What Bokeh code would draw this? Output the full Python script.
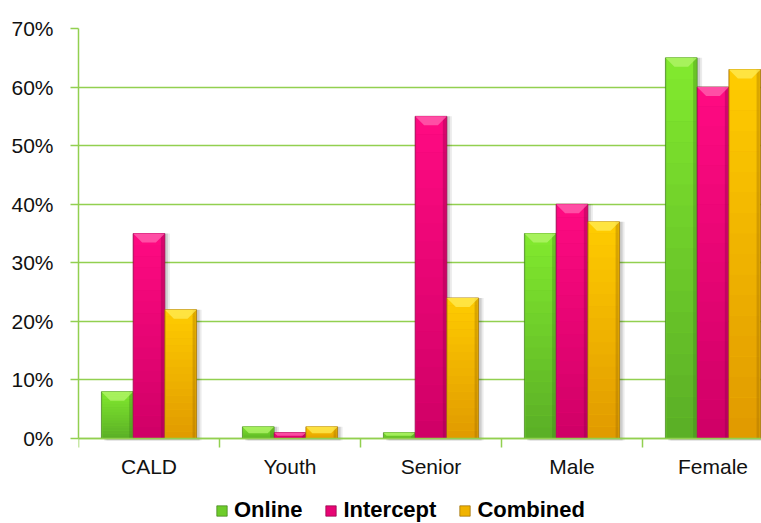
import numpy as np
from bokeh.plotting import figure
from bokeh.models import (Range1d, FixedTicker, NumeralTickFormatter, ColumnDataSource,
                          Legend, LegendItem)
from bokeh.embed import file_html
from bokeh.resources import INLINE

# ---- data ----
categories = ["CALD", "Youth", "Senior", "Male", "Female"]
online = [0.08, 0.02, 0.01, 0.35, 0.65]
intercept = [0.35, 0.01, 0.55, 0.40, 0.60]
combined = [0.22, 0.02, 0.24, 0.37, 0.63]
series_names = ["Online", "Intercept", "Combined"]
y_ticks = [0.0, 0.1, 0.2, 0.3, 0.4, 0.5, 0.6, 0.7]

# colour ramps per series: (bottom, top, bevel, edge)
palette = {
    "Online":    ("#5aae26", "#82ea2e", "#b4f56c", "#3f7d1a"),
    "Intercept": ("#cf0066", "#ff0a82", "#ff66b2", "#8a0044"),
    "Combined":  ("#e09a00", "#ffcc00", "#ffec55", "#9a6a00"),
}

GRID = "#92d050"
FONT = "Liberation Sans"

W, H = 761, 523
LEFT, TOP = 78, 28
plot_h = 410                        # pixel height of the 0..70% band
under_h = H - TOP - plot_h          # room under the zero line for labels + legend
frame_w = W - LEFT
cat_px = 141.0                      # pixel width of one category slot
x_end = frame_w / cat_px
y_end = 0.70
px_y = y_end / plot_h               # data units per pixel, vertical
px_x = x_end / frame_w              # data units per pixel, horizontal
y_start = -under_h * px_y

p = figure(width=W, height=H, output_backend="svg", toolbar_location=None,
           x_range=Range1d(0, x_end), y_range=Range1d(y_start, y_end),
           min_border_left=LEFT, min_border_right=0, min_border_top=TOP,
           min_border_bottom=0)
p.outline_line_color = None
p.background_fill_color = "white"
p.border_fill_color = "white"


def hex2rgb(h):
    h = h.lstrip("#")
    return np.array([int(h[i:i + 2], 16) for i in (0, 2, 4)], dtype=float)


def rgb2hex(c):
    return "#%02x%02x%02x" % tuple(int(round(v)) for v in c)


bar_w = 0.225
offsets = [-bar_w, 0.0, bar_w]
centers = np.arange(len(categories)) + 0.5
values = {"Online": np.array(online), "Intercept": np.array(intercept),
          "Combined": np.array(combined)}

# soft drop shadows behind every bar
for name, off in zip(series_names, offsets):
    v = values[name]
    for shift, alpha in ((5, 0.08), (3, 0.12)):
        p.vbar(x=centers + off + shift * px_x, top=v, bottom=-2 * px_y,
               width=bar_w, fill_color="#000000", fill_alpha=alpha, line_color=None)

legend_items = []
N = 18
for name, off in zip(series_names, offsets):
    v = values[name]
    xs = centers + off
    c_bot, c_top, c_bev, c_edge = palette[name]
    rb, rt = hex2rgb(c_bot), hex2rgb(c_top)

    # base bar (also used for the legend swatch)
    base = p.vbar(x=xs, top=v, width=bar_w, fill_color=rgb2hex((rb + rt) / 2),
                  line_color=c_edge, line_width=1, line_alpha=0.7)
    legend_items.append(LegendItem(label=name, renderers=[base]))

    # vertical gradient: darker at the base, brighter near the top
    xs_g, bot_g, top_g, col_g = [], [], [], []
    for k in range(N):
        t = (k + 0.5) / N
        col = rgb2hex(rb + (rt - rb) * t)
        xs_g.extend(xs)
        bot_g.extend(v * k / N)
        top_g.extend(v * (k + 1) / N)
        col_g.extend([col] * len(v))
    src = ColumnDataSource(dict(x=xs_g, bottom=bot_g, top=top_g, color=col_g))
    p.vbar(x="x", bottom="bottom", top="top", width=bar_w - 2 * px_x,
           fill_color="color", line_color=None, source=src)

    # darker right-hand edge for a rounded look
    p.vbar(x=xs + bar_w / 2 - 2.5 * px_x, top=v, width=3 * px_x,
           fill_color=c_edge, fill_alpha=0.35, line_color=None)

    # bevelled top facet
    bev_x, bev_y = [], []
    for xc, val in zip(xs, v):
        dy = min(9 * px_y, val * 0.55)
        dx = min(9 * px_x, dy / px_y * px_x)
        l, r = xc - bar_w / 2, xc + bar_w / 2
        bev_x.append([l, r, r - dx, l + dx])
        bev_y.append([val, val, val - dy, val - dy])
    p.patches(bev_x, bev_y, fill_color=c_bev, fill_alpha=0.75, line_color=None)

# ---- axes ----
yax = p.yaxis[0]
yax.ticker = FixedTicker(ticks=y_ticks)
yax.formatter = NumeralTickFormatter(format="0%")
yax.bounds = (0, y_end)
yax.axis_line_color = GRID
yax.axis_line_width = 1.5
yax.major_tick_line_color = GRID
yax.major_tick_line_width = 1.5
yax.major_tick_out = 8
yax.major_tick_in = 0
yax.minor_tick_line_color = None
yax.major_label_standoff = 17
yax.major_label_text_font = FONT
yax.major_label_text_font_size = "21px"
yax.major_label_text_color = "#111111"

xax = p.xaxis[0]
xax.fixed_location = 0              # category axis sits on the zero line
xax.ticker = FixedTicker(ticks=list(centers), minor_ticks=list(range(len(categories) + 1)))
xax.major_label_overrides = {float(c): lab for c, lab in zip(centers, categories)}
xax.axis_line_color = GRID
xax.axis_line_width = 1.5
xax.major_tick_line_color = None
xax.minor_tick_line_color = GRID
xax.minor_tick_line_width = 1.5
xax.minor_tick_out = 9
xax.minor_tick_in = 0
xax.major_label_standoff = 7
xax.major_label_text_font = FONT
xax.major_label_text_font_size = "21px"
xax.major_label_text_color = "#111111"

p.xgrid.grid_line_color = None
p.ygrid.grid_line_color = GRID
p.ygrid.grid_line_width = 1.5

# ---- legend, under the category labels ----
legend = Legend(items=legend_items, orientation="horizontal",
                location=(137, 0), padding=0, margin=0, spacing=22,
                glyph_width=13, glyph_height=13, label_standoff=6,
                label_text_font=FONT, label_text_font_style="bold",
                label_text_font_size="22px", label_text_color="#000000",
                border_line_color=None, background_fill_alpha=0)
p.add_layout(legend, "center")

open("out.html", "w").write(file_html(p, INLINE))
